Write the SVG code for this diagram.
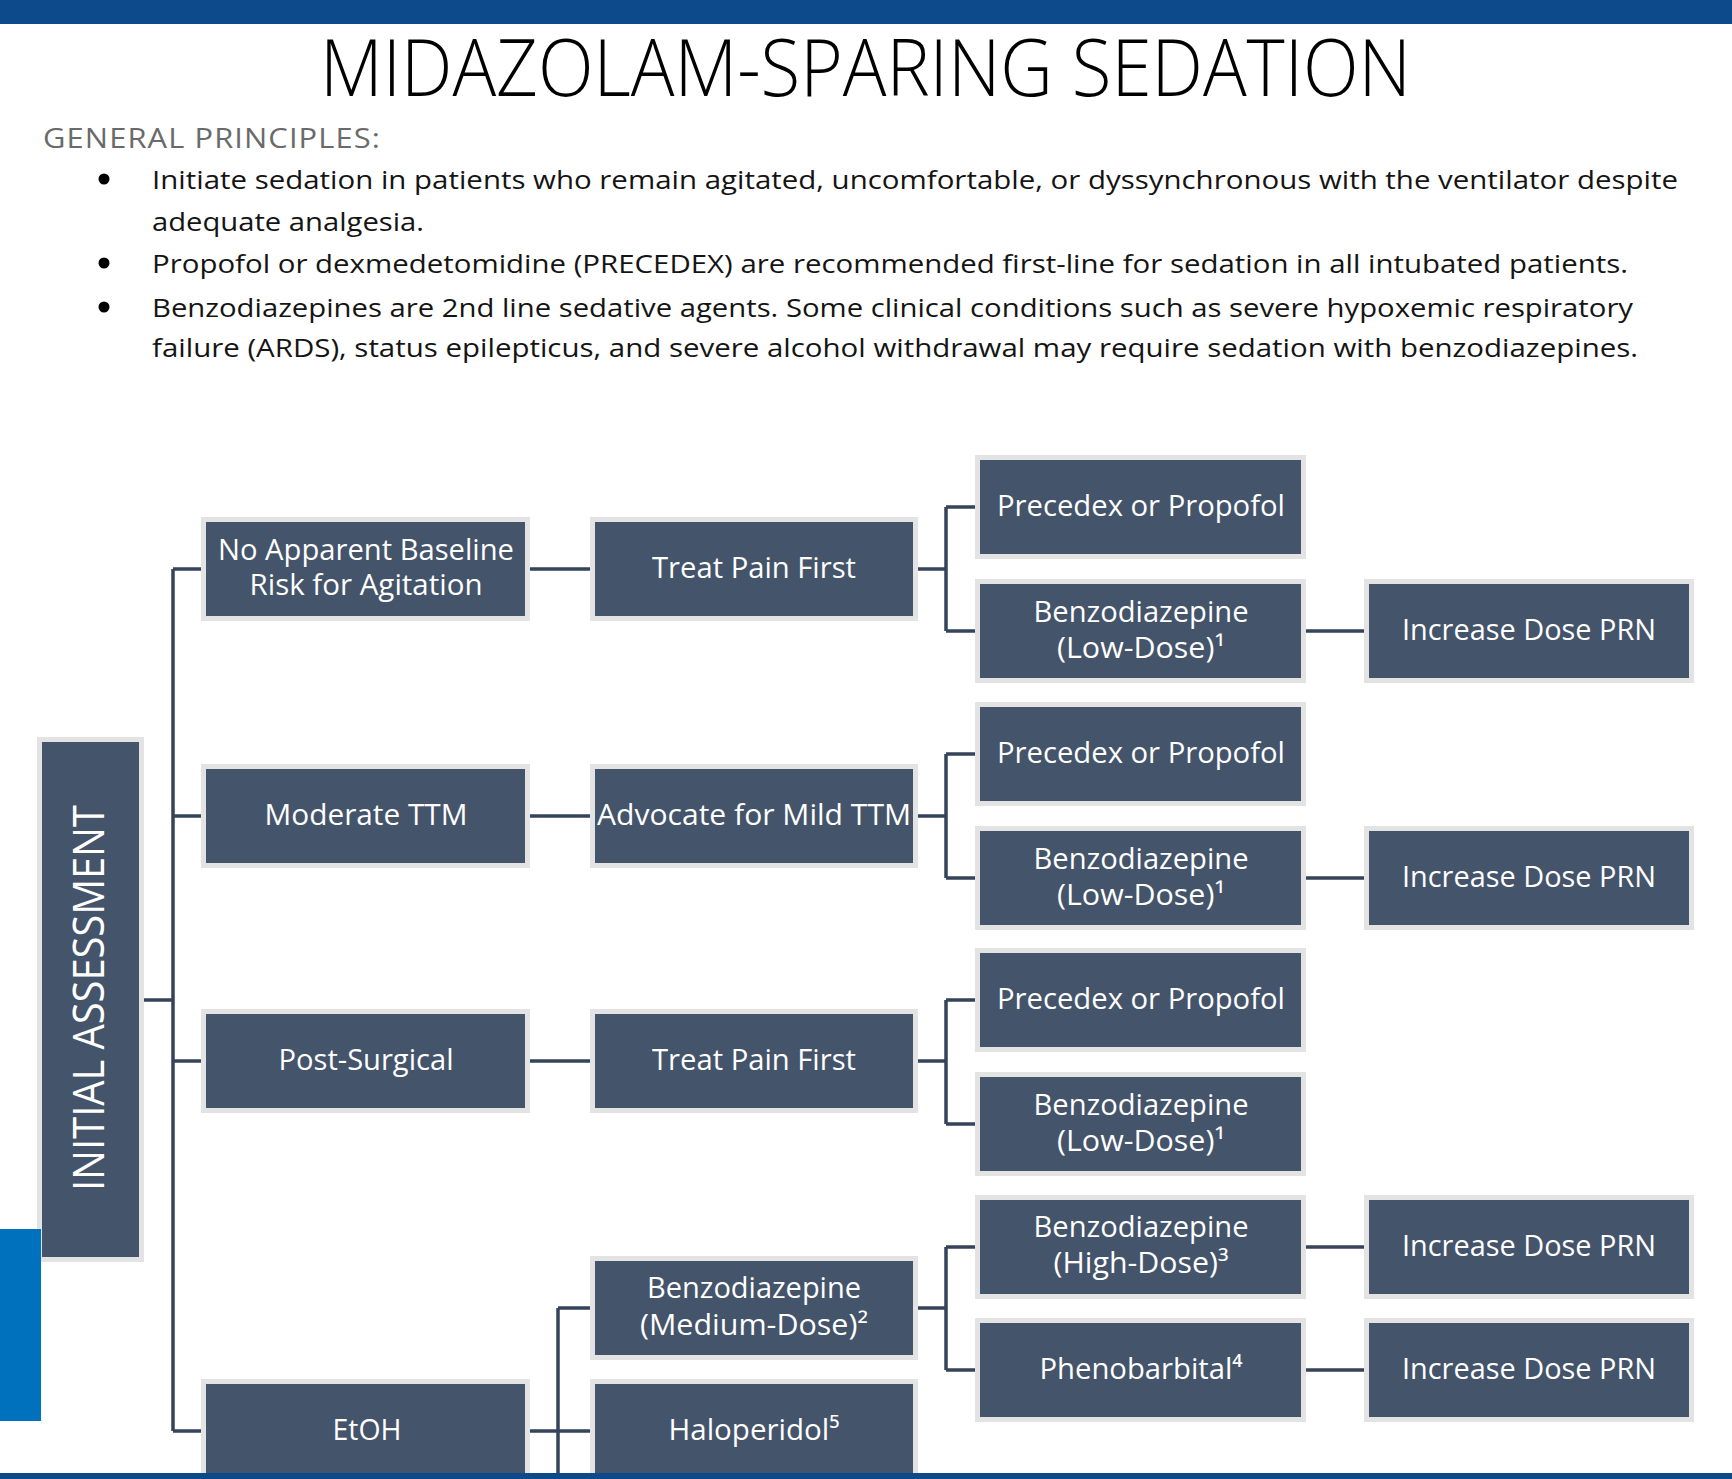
<svg xmlns="http://www.w3.org/2000/svg" width="1732" height="1479" viewBox="0 0 1732 1479">
<style>
.bar{fill:#0d4a8b}
.box{fill:#44546a;stroke:#e3e3e3;stroke-width:5}
.lbl{font-family:"Open Sans","Noto Sans","DejaVu Sans",sans-serif;font-size:30px;fill:#ffffff;text-anchor:middle}
.lbl2{font-family:"Open Sans","Noto Sans","DejaVu Sans",sans-serif;font-size:29px;fill:#ffffff;text-anchor:middle}
.conn{fill:none;stroke:#35445a;stroke-width:3.5}
.body{font-family:"Open Sans","Noto Sans","DejaVu Sans",sans-serif;font-size:26px;fill:#141414}
</style>
<rect x="0" y="0" width="1732" height="1479" fill="#ffffff"/>
<rect class="bar" x="0" y="0" width="1732" height="24"/>
<text x="865.5" y="96" font-family="'Open Sans','Noto Sans',sans-serif" font-weight="300" font-size="80" fill="#000" text-anchor="middle" textLength="1091" lengthAdjust="spacingAndGlyphs">MIDAZOLAM-SPARING SEDATION</text>
<text x="43" y="148" font-family="'Open Sans','Noto Sans',sans-serif" font-size="28" fill="#6a6a6a" letter-spacing="1" textLength="338" lengthAdjust="spacingAndGlyphs">GENERAL PRINCIPLES:</text>
<g id="bullets">
<circle cx="104" cy="179" r="5.5" fill="#000"/>
<circle cx="104" cy="263" r="5.5" fill="#000"/>
<circle cx="104" cy="307" r="5.5" fill="#000"/>
<text class="body" x="152" y="189" textLength="1526" lengthAdjust="spacingAndGlyphs">Initiate sedation in patients who remain agitated, uncomfortable, or dyssynchronous with the ventilator despite</text>
<text class="body" x="152" y="231" textLength="272" lengthAdjust="spacingAndGlyphs">adequate analgesia.</text>
<text class="body" x="152" y="273" textLength="1476" lengthAdjust="spacingAndGlyphs">Propofol or dexmedetomidine (PRECEDEX) are recommended first-line for sedation in all intubated patients.</text>
<text class="body" x="152" y="317" textLength="1481" lengthAdjust="spacingAndGlyphs">Benzodiazepines are 2nd line sedative agents. Some clinical conditions such as severe hypoxemic respiratory</text>
<text class="body" x="152" y="357" textLength="1486" lengthAdjust="spacingAndGlyphs">failure (ARDS), status epilepticus, and severe alcohol withdrawal may require sedation with benzodiazepines.</text>
</g>
<g id="connectors">
<path class="conn" d="M139 1000H173M173 569V1431M173 569H206M173 816H206M173 1061H206M173 1431H206"/>
<path class="conn" d="M525 569H595M525 816H595M525 1061H595M525 1431H595M558 1308V1479M558 1308H595"/>
<path class="conn" d="M913 569H946M946 507V631M946 507H980M946 631H980"/>
<path class="conn" d="M913 816H946M946 754V878M946 754H980M946 878H980"/>
<path class="conn" d="M913 1061H946M946 1000V1124M946 1000H980M946 1124H980"/>
<path class="conn" d="M913 1308H946M946 1247V1370M946 1247H980M946 1370H980"/>
<path class="conn" d="M1301 631H1369M1301 878H1369M1301 1247H1369M1301 1370H1369"/>
</g>
<g id="initial"><rect class="box" x="39.5" y="739.5" width="102" height="520"/><text transform="translate(104,998) rotate(-90)" font-family="'Open Sans','Noto Sans',sans-serif" font-size="43" fill="#fff" text-anchor="middle" textLength="386" lengthAdjust="spacingAndGlyphs">INITIAL ASSESSMENT</text></g>
<g id="n-noapparent"><rect class="box" x="203.5" y="519.5" width="324" height="99"/><text class="lbl2" x="366" y="560" textLength="296" lengthAdjust="spacingAndGlyphs">No Apparent Baseline</text><text class="lbl2" x="366" y="595" textLength="233" lengthAdjust="spacingAndGlyphs">Risk for Agitation</text></g>
<g id="n-treat1"><rect class="box" x="592.5" y="519.5" width="323" height="99"/><text class="lbl" x="754" y="578" textLength="204" lengthAdjust="spacingAndGlyphs">Treat Pain First</text></g>
<g id="n-prec1"><rect class="box" x="977.5" y="457.5" width="326" height="99"/><text class="lbl" x="1141" y="516" textLength="288" lengthAdjust="spacingAndGlyphs">Precedex or Propofol</text></g>
<g id="n-benzo1"><rect class="box" x="977.5" y="581.5" width="326" height="99"/><text class="lbl2" x="1141" y="622" textLength="215" lengthAdjust="spacingAndGlyphs">Benzodiazepine</text><text class="lbl2" x="1141" y="658" textLength="168" lengthAdjust="spacingAndGlyphs">(Low-Dose)¹</text></g>
<g id="n-inc1"><rect class="box" x="1366.5" y="581.5" width="325" height="99"/><text class="lbl" x="1529" y="640" textLength="254" lengthAdjust="spacingAndGlyphs">Increase Dose PRN</text></g>
<g id="n-moderate"><rect class="box" x="203.5" y="766.5" width="324" height="99"/><text class="lbl" x="366" y="825" textLength="203" lengthAdjust="spacingAndGlyphs">Moderate TTM</text></g>
<g id="n-advocate"><rect class="box" x="592.5" y="766.5" width="323" height="99"/><text class="lbl" x="754" y="825" textLength="314" lengthAdjust="spacingAndGlyphs">Advocate for Mild TTM</text></g>
<g id="n-prec2"><rect class="box" x="977.5" y="704.5" width="326" height="99"/><text class="lbl" x="1141" y="763" textLength="288" lengthAdjust="spacingAndGlyphs">Precedex or Propofol</text></g>
<g id="n-benzo2"><rect class="box" x="977.5" y="828.5" width="326" height="99"/><text class="lbl2" x="1141" y="869" textLength="215" lengthAdjust="spacingAndGlyphs">Benzodiazepine</text><text class="lbl2" x="1141" y="905" textLength="168" lengthAdjust="spacingAndGlyphs">(Low-Dose)¹</text></g>
<g id="n-inc2"><rect class="box" x="1366.5" y="828.5" width="325" height="99"/><text class="lbl" x="1529" y="887" textLength="254" lengthAdjust="spacingAndGlyphs">Increase Dose PRN</text></g>
<g id="n-postsurg"><rect class="box" x="203.5" y="1011.5" width="324" height="99"/><text class="lbl" x="366" y="1070" textLength="175" lengthAdjust="spacingAndGlyphs">Post-Surgical</text></g>
<g id="n-treat2"><rect class="box" x="592.5" y="1011.5" width="323" height="99"/><text class="lbl" x="754" y="1070" textLength="204" lengthAdjust="spacingAndGlyphs">Treat Pain First</text></g>
<g id="n-prec3"><rect class="box" x="977.5" y="950.5" width="326" height="99"/><text class="lbl" x="1141" y="1009" textLength="288" lengthAdjust="spacingAndGlyphs">Precedex or Propofol</text></g>
<g id="n-benzo3"><rect class="box" x="977.5" y="1074.5" width="326" height="99"/><text class="lbl2" x="1141" y="1115" textLength="215" lengthAdjust="spacingAndGlyphs">Benzodiazepine</text><text class="lbl2" x="1141" y="1151" textLength="168" lengthAdjust="spacingAndGlyphs">(Low-Dose)¹</text></g>
<g id="n-benzohigh"><rect class="box" x="977.5" y="1197.5" width="326" height="99"/><text class="lbl2" x="1141" y="1237" textLength="215" lengthAdjust="spacingAndGlyphs">Benzodiazepine</text><text class="lbl2" x="1141" y="1273" textLength="175" lengthAdjust="spacingAndGlyphs">(High-Dose)³</text></g>
<g id="n-inc3"><rect class="box" x="1366.5" y="1197.5" width="325" height="99"/><text class="lbl" x="1529" y="1256" textLength="254" lengthAdjust="spacingAndGlyphs">Increase Dose PRN</text></g>
<g id="n-medium"><rect class="box" x="592.5" y="1258.5" width="323" height="99"/><text class="lbl2" x="754" y="1298" textLength="214" lengthAdjust="spacingAndGlyphs">Benzodiazepine</text><text class="lbl2" x="754" y="1335" textLength="228" lengthAdjust="spacingAndGlyphs">(Medium-Dose)²</text></g>
<g id="n-pheno"><rect class="box" x="977.5" y="1320.5" width="326" height="99"/><text class="lbl" x="1141" y="1379" textLength="203" lengthAdjust="spacingAndGlyphs">Phenobarbital⁴</text></g>
<g id="n-inc4"><rect class="box" x="1366.5" y="1320.5" width="325" height="99"/><text class="lbl" x="1529" y="1379" textLength="254" lengthAdjust="spacingAndGlyphs">Increase Dose PRN</text></g>
<g id="n-etoh"><rect class="box" x="203.5" y="1381.5" width="324" height="110"/><text class="lbl" x="367" y="1440" textLength="69" lengthAdjust="spacingAndGlyphs">EtOH</text></g>
<g id="n-halo"><rect class="box" x="592.5" y="1381.5" width="323" height="110"/><text class="lbl" x="754" y="1440" textLength="171" lengthAdjust="spacingAndGlyphs">Haloperidol⁵</text></g>
<rect x="0" y="1229" width="41" height="192" fill="#0071bc"/>
<rect class="bar" x="0" y="1473" width="1732" height="6"/>
</svg>
